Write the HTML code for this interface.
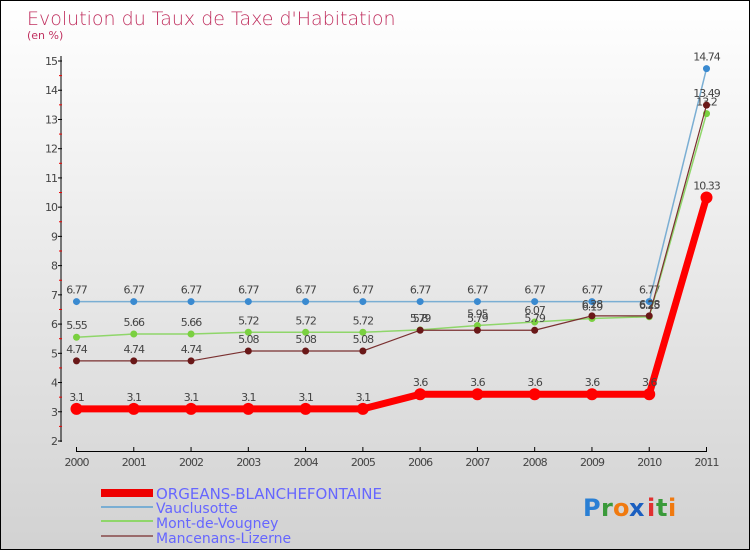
<!DOCTYPE html>
<html><head><meta charset="utf-8"><style>
body{margin:0}
#c{width:748px;height:548px;border:1px solid #000;background:linear-gradient(#fff,#d2d2d2);position:relative;overflow:hidden;font-family:"DejaVu Sans","Liberation Sans",sans-serif}
</style></head><body>
<div id="c">
<svg id="s" width="748" height="548" style="position:absolute;left:0;top:0">
<text x="26" y="24" font-size="19" fill="#c0305f" font-weight="300">Evolution du Taux de Taxe d'Habitation</text>
<text x="26" y="38" font-size="11" fill="#c0305f">(en %)</text>
<g id="ax"></g><g id="ser"></g>
<g>
<rect x="100" y="488" width="52" height="8" fill="#e00"/>
<text x="155" y="498" font-size="15" fill="#66f">ORGEANS-BLANCHEFONTAINE</text>
<rect x="100" y="505" width="52" height="2" fill="#7aaed3"/>
<text x="155" y="512" font-size="14" fill="#66f">Vauclusotte</text>
<rect x="100" y="519" width="52" height="2" fill="#8fd66a"/>
<text x="155" y="527" font-size="14" fill="#66f">Mont-de-Vougney</text>
<rect x="100" y="534" width="52" height="2" fill="#9a6b6b"/>
<text x="155" y="542" font-size="14" fill="#66f">Mancenans-Lizerne</text>
</g>
<g font-size="24" font-weight="bold">
<text x="582" y="515" fill="#2a7fd4">P</text><text x="600" y="515" fill="#3a9a3a">r</text><text x="612" y="515" fill="#f07a10">o</text><text x="628" y="515" fill="#1a5fc0">x</text><text x="646" y="515" fill="#e03030">i</text><text x="655" y="515" fill="#3a9a3a">t</text><text x="667" y="515" fill="#f07a10">i</text>
</g>
</svg>
</div>
<script>
const years=["2000","2001","2002","2003","2004","2005","2006","2007","2008","2009","2010","2011"];
const yTicks=[2,3,4,5,6,7,8,9,10,11,12,13,14,15];
const orgeans=[3.1,3.1,3.1,3.1,3.1,3.1,3.6,3.6,3.6,3.6,3.6,10.33];
const vauclusotte=[6.77,6.77,6.77,6.77,6.77,6.77,6.77,6.77,6.77,6.77,6.77,14.74];
const mont=[5.55,5.66,5.66,5.72,5.72,5.72,5.80,5.95,6.07,6.19,6.25,13.2];
const mancenans=[4.74,4.74,4.74,5.08,5.08,5.08,5.79,5.79,5.79,6.28,6.28,13.49];
const NS="http://www.w3.org/2000/svg";
const X=i=>75.5+i*(705.5-75.5)/11;
const Y=v=>440-(v-2)*(440-60)/13;
function mk(t,a,p){const e=document.createElementNS(NS,t);for(const k in a)e.setAttribute(k,a[k]);p.appendChild(e);return e;}
const ax=document.getElementById('ax'),ser=document.getElementById('ser');
let l=mk('line',{x1:60,y1:55,x2:60,y2:441,stroke:'#000'},ax);


l=mk('line',{x1:75,y1:450.5,x2:706,y2:450.5,stroke:'#000'},ax);


yTicks.forEach(v=>{
 mk('line',{x1:57,x2:61,y1:Y(v),y2:Y(v),stroke:'#000'},ax);
 if(v<15)mk('line',{x1:58,x2:61,y1:Y(v+0.5),y2:Y(v+0.5),stroke:'#e00'},ax);
 const t=mk('text',{x:56,y:Y(v)+4,'font-size':11,'text-anchor':'end',fill:'#444','letter-spacing':'-1'},ax);
 t.textContent=v;
 
 
});
years.forEach((y,i)=>{
 mk('line',{x1:X(i),x2:X(i),y1:446,y2:451,stroke:'#000'},ax);
 const t=mk('text',{x:X(i),y:465,'font-size':11,'text-anchor':'middle',fill:'#444','letter-spacing':'-1'},ax);
 t.textContent=y;
 
 
});
function draw(arr,name,col,w,r,dot,lab){
 const g=mk('g',{},ser);
 
 
 const p=mk('polyline',{points:arr.map((v,i)=>X(i)+','+Y(v)).join(' '),fill:'none',stroke:col,'stroke-width':w},g);
 
 
 arr.forEach((v,i)=>{
  const c=mk('circle',{cx:X(i),cy:Y(v),r:r,fill:dot},g);
  
  
  const t=mk('text',{x:X(i),y:Y(v)-8,'font-size':11,'text-anchor':'middle',fill:'#444','letter-spacing':'-1'},g);
  t.textContent=String(v);
  
  
 });
}
draw(vauclusotte,'vauclusotte','#7aaed3',1.5,3.5,'#3a8ad0');
draw(mont,'mont-de-vougney','#8fd66a',1.5,3.5,'#7ad040');
draw(mancenans,'mancenans-lizerne','#7a3030',1.2,3.5,'#6a1818');
draw(orgeans,'orgeans','#f00',7,6,'#f00');
</script>
</body></html>
